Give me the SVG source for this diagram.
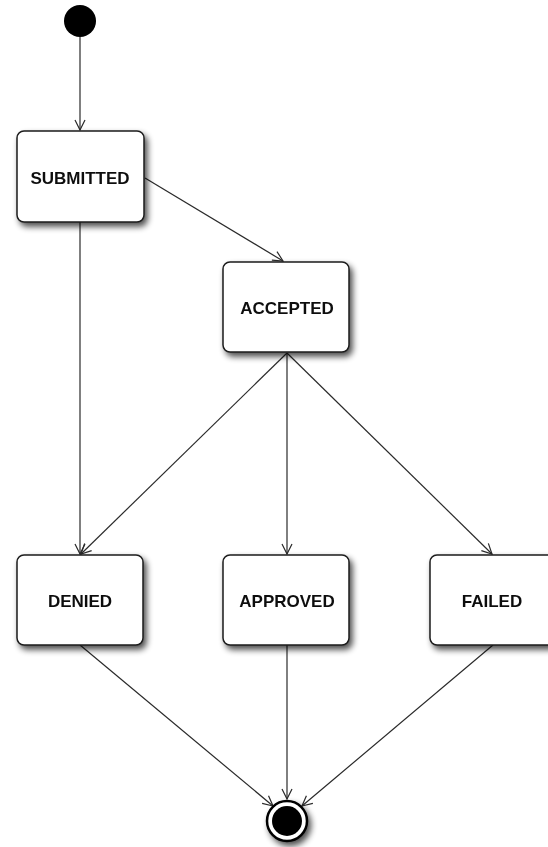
<svg xmlns="http://www.w3.org/2000/svg" width="548" height="847" viewBox="0 0 548 847">
<style>
.box{fill:#fff;stroke:#1a1a1a;stroke-width:1.5}
.lbl{font-family:"Liberation Sans",Arial,sans-serif;font-weight:bold;font-size:17px;fill:#111;text-anchor:middle}
.edge{fill:none;stroke:#2a2a2a;stroke-width:1.2;marker-end:url(#arr)}
</style>
<defs>
<filter id="sh" x="-20%" y="-20%" width="150%" height="150%">
<feGaussianBlur in="SourceAlpha" stdDeviation="3"/>
<feOffset dx="3" dy="4" result="b"/>
<feComponentTransfer><feFuncA type="linear" slope="0.7"/></feComponentTransfer>
<feMerge><feMergeNode/><feMergeNode in="SourceGraphic"/></feMerge>
</filter>
<marker id="arr" viewBox="0 0 12 12" refX="11" refY="6" markerWidth="12" markerHeight="12" markerUnits="userSpaceOnUse" orient="auto">
<path d="M1,1 L11,6 L1,11" fill="none" stroke="#2a2a2a" stroke-width="1.2"/>
</marker>
</defs>
<g id="connectors">
<line class="edge" x1="80" y1="37" x2="80" y2="130"/>
<line class="edge" x1="145" y1="178" x2="283" y2="261"/>
<line class="edge" x1="80" y1="222" x2="80" y2="554"/>
<line class="edge" x1="287" y1="353" x2="81" y2="554"/>
<line class="edge" x1="287" y1="353" x2="287" y2="554"/>
<line class="edge" x1="287" y1="353" x2="492" y2="554"/>
<line class="edge" x1="80" y1="645" x2="273" y2="806"/>
<line class="edge" x1="287" y1="645" x2="287" y2="799"/>
<line class="edge" x1="493" y1="645" x2="302" y2="806"/>
</g>
<g id="start"><circle cx="80" cy="21" r="16" fill="#000"/></g>
<g id="submitted" filter="url(#sh)"><rect class="box" x="17" y="131" width="127" height="91" rx="7"/><text class="lbl" x="80" y="184">SUBMITTED</text></g>
<g id="accepted" filter="url(#sh)"><rect class="box" x="223" y="262" width="126" height="90" rx="7"/><text class="lbl" x="287" y="314">ACCEPTED</text></g>
<g id="denied" filter="url(#sh)"><rect class="box" x="17" y="555" width="126" height="90" rx="7"/><text class="lbl" x="80" y="607">DENIED</text></g>
<g id="approved" filter="url(#sh)"><rect class="box" x="223" y="555" width="126" height="90" rx="7"/><text class="lbl" x="287" y="607">APPROVED</text></g>
<g id="failed" filter="url(#sh)"><rect class="box" x="430" y="555" width="126" height="90" rx="7"/><text class="lbl" x="492" y="607">FAILED</text></g>
<g id="end" filter="url(#sh)"><circle cx="287" cy="821" r="20" fill="#fff" stroke="#000" stroke-width="2.5"/><circle cx="287" cy="821" r="15" fill="#000"/></g>
</svg>
